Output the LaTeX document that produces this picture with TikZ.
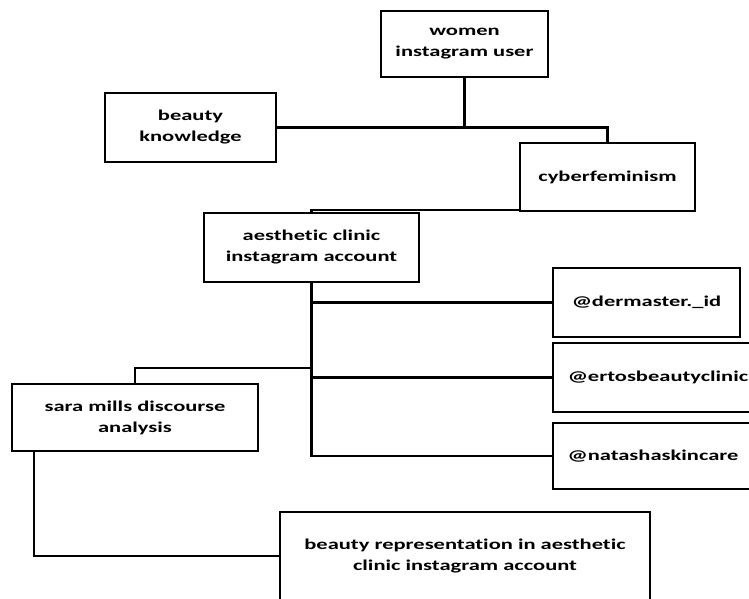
\documentclass[tikz,border=0pt]{standalone}
\usepackage{fontspec}
\setmainfont[FakeStretch=1.5,Ligatures=NoCommon]{Carlito}
\usetikzlibrary{calc}

\begin{document}
\begin{tikzpicture}[x=1pt,y=1pt,
  box/.style={draw,line width=1.8pt,align=center,inner sep=2pt,
    font=\fontsize{15}{21}\selectfont\bfseries},
  wire/.style={draw,line width=2.4pt}]
\useasboundingbox (0,0) rectangle (749,599);
\clip (0,0) rectangle (749,599);

\node (user) at (464.5,555)[box,minimum width=167pt,minimum height=66pt]{women\\instagram user};
\node (know) at (190.5,471.5)[box,minimum width=171pt,minimum height=69pt]{beauty\\knowledge};
\node (cyber) at (607.5,422)[box,minimum width=175pt,minimum height=68pt]{cyberfeminism};
\node (acct) at (311.5,351.5)[box,minimum width=215pt,minimum height=69pt]{aesthetic clinic\\instagram account};

% clinic accounts
\node (derm) at (646.5,296.5)[box,minimum width=187pt,minimum height=69pt]{@dermaster.\_id};
\node (ertos) at (658,221.5)[box,minimum width=210pt,minimum height=69pt]{@ertosbeautyclinic};
\node (nat) at (653,143)[box,minimum width=200pt,minimum height=66pt]{@natashaskincare};

\node (sara) at (135,181.5)[box,minimum width=246pt,minimum height=67pt]{sara mills discourse\\analysis};
\node (rep) at (465,43)[box,minimum width=370pt,minimum height=88pt]{beauty representation in aesthetic\\clinic instagram account};

\path[wire] (user.south) -- (user.south |- know.east);
\path[wire] (know.east) -| (cyber.north);
\path[wire] ([yshift=2pt]cyber.south west) -| (acct.north);
\path[wire] (acct.south) |- (nat.west);
\path[wire] (acct.south |- derm.west) -- (derm.west);
\path[wire] (acct.south |- ertos.west) -- (ertos.west);
\path[wire] (sara.north) -- ++(0,15) -| (acct.south);
\path[wire] ([xshift=23pt]sara.south west) |- (rep.west);
\end{tikzpicture}
\end{document}
